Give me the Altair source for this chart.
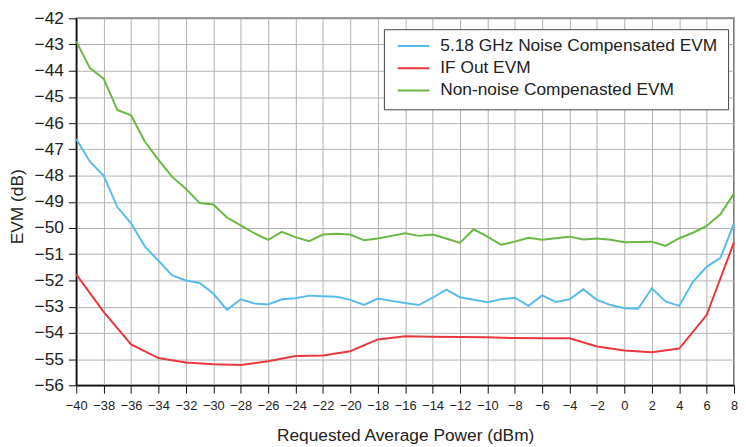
import altair as alt
import pandas as pd

# X values (dBm)
power_full = list(range(-40, 9))
power_if = list(range(-40, 9, 2))

# Series values (dB)
noise_comp = [-46.6, -47.47, -48.0, -49.2, -49.82, -50.7, -51.25, -51.81, -52.0, -52.1,
              -52.5, -53.12, -52.72, -52.88, -52.92, -52.72, -52.68, -52.58, -52.6, -52.62,
              -52.74, -52.93, -52.69, -52.78, -52.86, -52.94, -52.66, -52.35, -52.64, -52.74,
              -52.83, -52.72, -52.66, -52.97, -52.57, -52.82, -52.72, -52.34, -52.74, -52.94,
              -53.06, -53.08, -52.3, -52.8, -52.97, -52.05, -51.48, -51.14, -49.82]
non_noise = [-42.88, -43.9, -44.3, -45.5, -45.7, -46.7, -47.4, -48.05, -48.5, -49.05,
             -49.1, -49.6, -49.9, -50.2, -50.45, -50.15, -50.35, -50.5, -50.25, -50.22,
             -50.25, -50.47, -50.4, -50.3, -50.2, -50.3, -50.25, -50.4, -50.57, -50.05,
             -50.33, -50.64, -50.52, -50.37, -50.45, -50.39, -50.33, -50.44, -50.4, -50.45,
             -50.54, -50.53, -50.52, -50.68, -50.39, -50.18, -49.92, -49.48, -48.69]
if_out = [-51.77, -53.2, -54.44, -54.96, -55.13, -55.2, -55.23, -55.08, -54.88, -54.86,
          -54.7, -54.25, -54.13, -54.15, -54.16, -54.17, -54.2, -54.21, -54.21, -54.52,
          -54.67, -54.74, -54.6, -53.32, -50.54]

series_names = ["5.18 GHz Noise Compensated EVM", "IF Out EVM", "Non-noise Compenasted EVM"]
series_colors = ["#58BCEB", "#E8383D", "#6AB843"]

x_ticks = list(range(-40, 9, 2))
y_ticks = list(range(-56, -41))

rows = []
for p, v in zip(power_full, noise_comp):
    rows.append({"power": p, "evm": v, "series": series_names[0]})
for p, v in zip(power_if, if_out):
    rows.append({"power": p, "evm": v, "series": series_names[1]})
for p, v in zip(power_full, non_noise):
    rows.append({"power": p, "evm": v, "series": series_names[2]})
df = pd.DataFrame(rows)

FONT = "Liberation Sans"

chart = alt.Chart(df).mark_line(strokeWidth=2).encode(
    x=alt.X("power:Q",
            scale=alt.Scale(domain=[-40, 8], nice=False, zero=False),
            axis=alt.Axis(values=x_ticks, format="d", labelOverlap=False, labelFlush=False,
                          title="Requested Average Power (dBm)", titleFontSize=17.5,
                          titleFontWeight="normal", titlePadding=15, titleColor="#222",
                          labelFontSize=13, labelColor="#222", labelPadding=6,
                          tickSize=8, tickColor="#111", domainColor="#111", domainWidth=1.5,
                          grid=True, gridColor="#b2b2b2", gridWidth=1)),
    y=alt.Y("evm:Q",
            scale=alt.Scale(domain=[-56, -42], nice=False, zero=False),
            axis=alt.Axis(values=y_ticks, format="d", labelOverlap=False, labelFlush=False,
                          title="EVM (dB)", titleFontSize=17.5, titleFontWeight="normal",
                          titlePadding=8, titleColor="#222", titleY=190,
                          labelFontSize=17.5, labelColor="#222", labelPadding=5,
                          tickSize=8, tickColor="#111", domainColor="#111", domainWidth=1.5,
                          grid=True, gridColor="#b2b2b2", gridWidth=1)),
    color=alt.Color("series:N",
                    scale=alt.Scale(domain=series_names, range=series_colors),
                    legend=alt.Legend(title=None, orient="none", legendX=311, legendY=11,
                                      symbolType="stroke", symbolSize=1024, symbolStrokeWidth=2,
                                      symbolOffset=3,
                                      labelFontSize=17.5, labelColor="#222", labelOffset=10,
                                      clipHeight=14, rowPadding=4.5, padding=10,
                                      fillColor="white", strokeColor="#444",
                                      labelLimit=400)),
).properties(
    width=665, height=371,
    padding={"left": 69, "top": 8, "right": 4, "bottom": 62},
    autosize=alt.AutoSizeParams(type="none"),
).configure(font=FONT).configure_view(stroke="#444", strokeWidth=1.5)

chart.save("out.html", embed_options={"renderer": "svg", "actions": False})
